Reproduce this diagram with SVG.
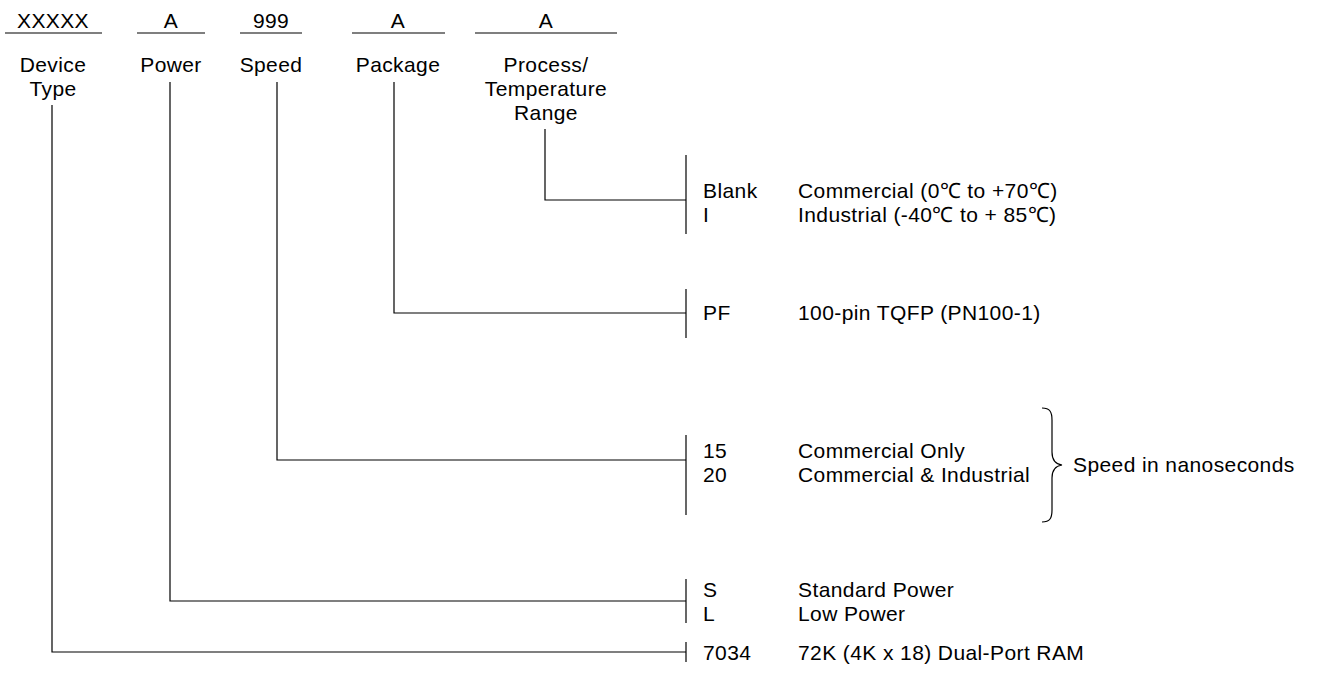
<svg xmlns="http://www.w3.org/2000/svg" width="1323" height="683" viewBox="0 0 1323 683">
<style>
text{font-family:"Liberation Sans",Arial,sans-serif;font-size:21px;letter-spacing:0.4px;fill:#000}
.c{text-anchor:middle}
line,path{stroke:#000;stroke-width:1.2;fill:none}
</style>
<rect width="1323" height="683" fill="#fff"/>
<g id="fields">
<g id="device"><text class="c" x="53" y="28">XXXXX</text><line x1="5" y1="33" x2="102" y2="33"/><text class="c" x="53" y="72">Device</text><text class="c" x="53" y="96">Type</text></g>
<g id="power"><text class="c" x="171" y="28">A</text><line x1="137" y1="33" x2="205" y2="33"/><text class="c" x="171" y="72">Power</text></g>
<g id="speed"><text class="c" x="271" y="28">999</text><line x1="240" y1="33" x2="302" y2="33"/><text class="c" x="271" y="72">Speed</text></g>
<g id="package"><text class="c" x="398" y="28">A</text><line x1="352" y1="33" x2="445" y2="33"/><text class="c" x="398" y="72">Package</text></g>
<g id="process"><text class="c" x="546" y="28">A</text><line x1="475" y1="33" x2="617" y2="33"/><text class="c" x="546" y="72">Process/</text><text class="c" x="546" y="96">Temperature</text><text class="c" x="546" y="120">Range</text></g>
</g>
<g id="connectors">
<path d="M545 129V200H686"/>
<path d="M394 82V313H686"/>
<path d="M277 82V460H686"/>
<path d="M170 82V601H686"/>
<path d="M52 105V652H686"/>
<line x1="686" y1="155" x2="686" y2="234"/>
<line x1="686" y1="289" x2="686" y2="338"/>
<line x1="686" y1="435" x2="686" y2="515"/>
<line x1="686" y1="579" x2="686" y2="623"/>
<line x1="686" y1="642" x2="686" y2="662"/>
<path d="M1042 408C1050 408 1052 412 1052 420V452C1052 460 1055 464 1062 465C1055 466 1052 470 1052 478V510C1052 518 1050 522 1042 522"/>
</g>
<g id="temp-options"><text x="703" y="198">Blank</text><text x="798" y="198">Commercial (0℃ to +70℃)</text><text x="703" y="222">I</text><text x="798" y="222">Industrial (-40℃ to + 85℃)</text></g>
<g id="package-options"><text x="703" y="320">PF</text><text x="798" y="320">100-pin TQFP (PN100-1)</text></g>
<g id="speed-options"><text x="703" y="458">15</text><text x="798" y="458">Commercial Only</text><text x="703" y="482">20</text><text x="798" y="482">Commercial &amp; Industrial</text><text x="1073" y="472">Speed in nanoseconds</text></g>
<g id="power-options"><text x="703" y="597">S</text><text x="798" y="597">Standard Power</text><text x="703" y="621">L</text><text x="798" y="621">Low Power</text></g>
<g id="device-options"><text x="703" y="660">7034</text><text x="798" y="660">72K (4K x 18) Dual-Port RAM</text></g>
</svg>
